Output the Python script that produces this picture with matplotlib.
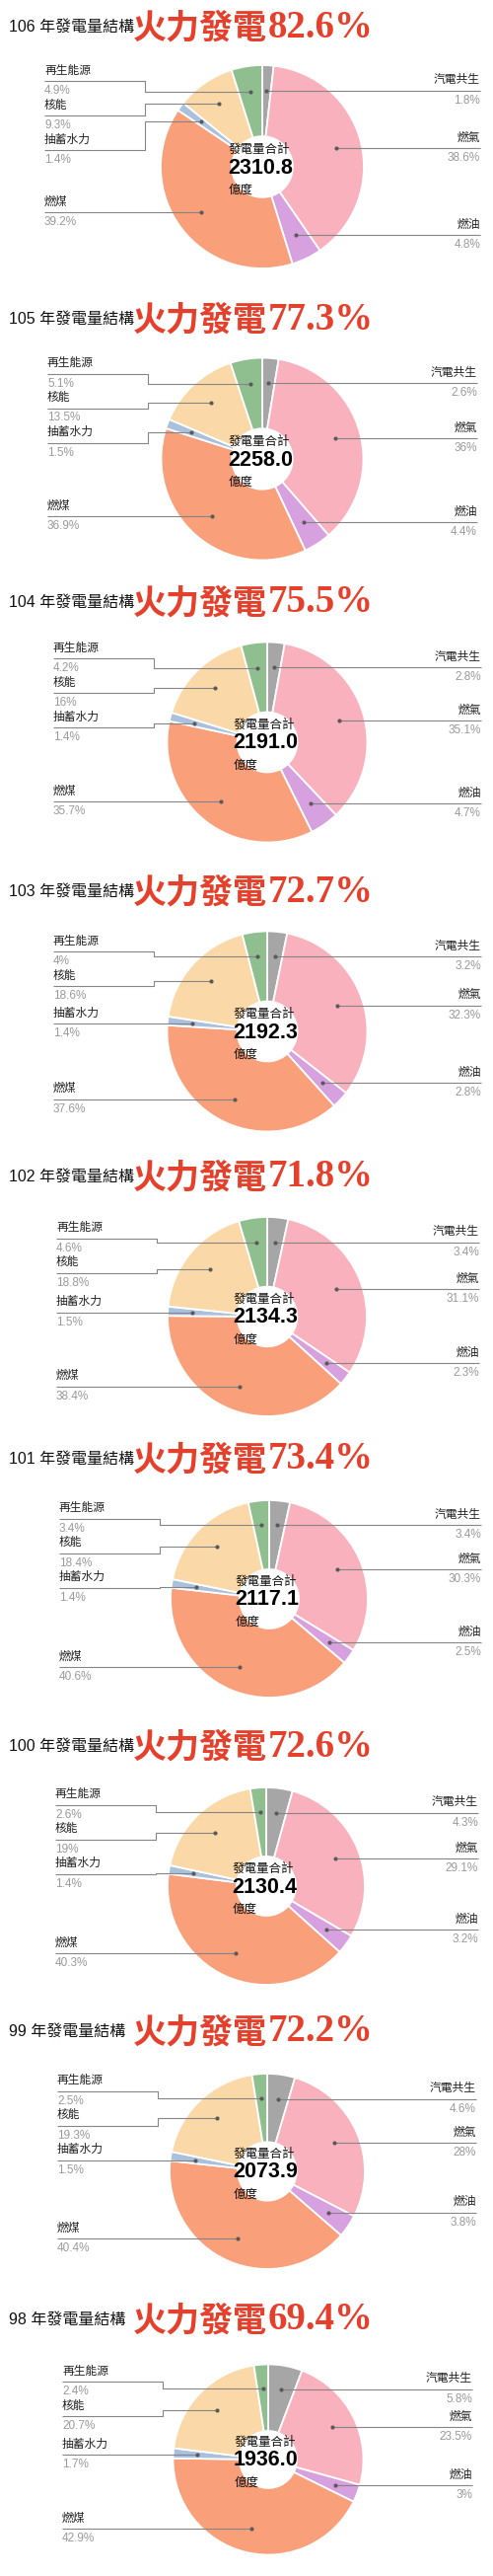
import matplotlib
matplotlib.use('Agg')
import matplotlib.pyplot as plt
import numpy as np

W, H = 500, 2610

# ---------------- data ----------------
years = ['106', '105', '104', '103', '102', '101', '100', '99', '98']
categories = ['汽電共生', '燃氣', '燃油', '燃煤', '抽蓄水力', '核能', '再生能源']
cogen   = [1.8, 2.6, 2.8, 3.2, 3.4, 3.4, 4.3, 4.6, 5.8]
gas     = [38.6, 36, 35.1, 32.3, 31.1, 30.3, 29.1, 28, 23.5]
oil     = [4.8, 4.4, 4.7, 2.8, 2.3, 2.5, 3.2, 3.8, 3]
coal    = [39.2, 36.9, 35.7, 37.6, 38.4, 40.6, 40.3, 40.4, 42.9]
pumped  = [1.4, 1.5, 1.4, 1.4, 1.5, 1.4, 1.4, 1.5, 1.7]
nuclear = [9.3, 13.5, 16, 18.6, 18.8, 18.4, 19, 19.3, 20.7]
renew   = [4.9, 5.1, 4.2, 4, 4.6, 3.4, 2.6, 2.5, 2.4]
totals  = [2310.8, 2258.0, 2191.0, 2192.3, 2134.3, 2117.1, 2130.4, 2073.9, 1936.0]
thermal = [82.6, 77.3, 75.5, 72.7, 71.8, 73.4, 72.6, 72.2, 69.4]

# ---------------- layout / style ----------------
colors = ['#a6a6a6', '#f8b1bd', '#d7a0df', '#f99f7a', '#aac1de', '#fbd8a7', '#8fbe8f']
title_y = [27, 323, 610, 903, 1192, 1478, 1769, 2058, 2350]
pie_cx = [266, 266, 271, 271, 271, 273, 270, 271, 272]
pie_r = [103, 102.5, 101.5, 101.5, 101, 100, 100, 99, 96.5]
lab_L = [45, 48, 54, 54, 57, 60, 56, 58, 63]
lab_R = [487, 484, 488, 488, 486, 488, 485, 483, 479]
HOLE = 0.30
GAP = 35

CJK = 'Noto Sans CJK TC'
LAT = 'Liberation Sans'

fig = plt.figure(figsize=(W / 100, H / 100), dpi=100)
ax = fig.add_axes([0, 0, 1, 1])


def Y(y):
    return H - y


def layout(desired, gap, lo, hi):
    n = len(desired)
    if n == 0:
        return []
    z = [d - i * gap for i, d in enumerate(desired)]
    blocks = []
    for v in z:
        blocks.append([v, 1])
        while len(blocks) > 1 and blocks[-2][0] / blocks[-2][1] > blocks[-1][0] / blocks[-1][1]:
            s, c = blocks.pop()
            blocks[-1][0] += s
            blocks[-1][1] += c
    out = []
    for s, c in blocks:
        out += [s / c] * c
    y = [v + i * gap for i, v in enumerate(out)]
    if y[0] < lo:
        y[0] = lo
    for i in range(1, n):
        y[i] = max(y[i], y[i - 1] + gap)
    if y[-1] > hi:
        y[-1] = hi
        for i in range(n - 2, -1, -1):
            y[i] = min(y[i], y[i + 1] - gap)
    return y


line_kw = dict(color='#858585', lw=0.8, zorder=5, solid_capstyle='butt')

for i in range(len(years)):
    vals = [cogen[i], gas[i], oil[i], coal[i], pumped[i], nuclear[i], renew[i]]
    ty = title_y[i]
    cx = pie_cx[i]
    cy = ty + 142
    r = pie_r[i]
    L = lab_L[i]
    R = lab_R[i]

    ax.pie(vals, colors=colors, startangle=90, counterclock=False, radius=r,
           center=(cx, Y(cy)), frame=True,
           wedgeprops=dict(width=r * (1 - HOLE), edgecolor='white', linewidth=1.3))

    tot = sum(vals)
    cum = 0.0
    left, right = [], []
    for k, v in enumerate(vals):
        mid = (cum + v / 2) / tot * 2 * np.pi
        cum += v
        px = cx + 0.75 * r * np.sin(mid)
        py = cy - 0.75 * r * np.cos(mid)
        (left if px < cx else right).append((py, px, k))
    left.sort()
    right.sort()
    lo = cy - r + 16
    hi = cy + r - 5

    for side, items in (('L', left), ('R', right)):
        ys = layout([it[0] for it in items], GAP, lo, hi)
        for (py, px, k), ly in zip(items, ys):
            v = vals[k]
            if side == 'L':
                ex = L + 102
                ax.plot([L, ex, ex, px], [Y(ly), Y(ly), Y(py), Y(py)], **line_kw)
                ax.text(L, Y(ly - 11), categories[k], ha='left', va='center',
                        fontsize=8.5, family=[CJK], color='#222222', zorder=6)
                ax.text(L, Y(ly + 10), f'{v:g}%', ha='left', va='center',
                        fontsize=8.5, family=[LAT, CJK], color='#9a9a9a', zorder=6)
            else:
                ex = R - 97
                ax.plot([R, ex, ex, px], [Y(ly), Y(ly), Y(py), Y(py)], **line_kw)
                ax.text(R, Y(ly - 11), categories[k], ha='right', va='center',
                        fontsize=8.5, family=[CJK], color='#222222', zorder=6)
                ax.text(R, Y(ly + 10), f'{v:g}%', ha='right', va='center',
                        fontsize=8.5, family=[LAT, CJK], color='#9a9a9a', zorder=6)
            ax.plot([px], [Y(py)], 'o', color='#5a5a5a', ms=3, mew=0, zorder=7)

    # centre text
    ax.text(cx - 34, Y(cy - 18), '發電量合計', ha='left', va='center',
            fontsize=9, family=[CJK], color='#111111', zorder=8)
    ax.text(cx - 35, Y(cy + 1), f'{totals[i]:.1f}', ha='left', va='center',
            fontsize=15.5, family=[LAT], fontweight='bold', color='#000000', zorder=8)
    ax.text(cx - 34, Y(cy + 23), '億度', ha='left', va='center',
            fontsize=9, family=[CJK], color='#111111', zorder=8)

    # titles
    ax.text(9, Y(ty), f'{years[i]} 年發電量結構', ha='left', va='center',
            fontsize=11.5, family=[LAT, CJK], color='#111111')
    t1 = ax.text(135, Y(ty + 1), '火力發電', ha='left', va='center',
                 fontsize=24.5, family=[CJK], fontweight='bold', color='#e5402b')
    ax.text(135 + 137, Y(ty + 1), f'{thermal[i]:.1f}%', ha='left', va='center',
            fontsize=28, family=['Liberation Serif'], fontweight='bold', color='#e5402b')

ax.set_xlim(0, W)
ax.set_ylim(0, H)
ax.set_aspect('auto')
ax.axis('off')
fig.savefig('out.png', dpi=100, facecolor='white')
